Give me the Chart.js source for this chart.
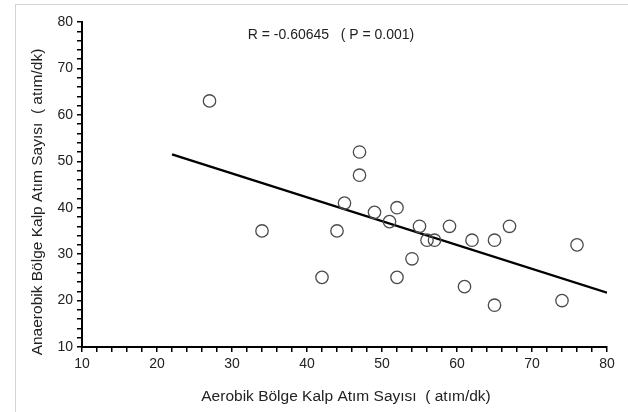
<!DOCTYPE html>
<html>
<head>
<meta charset="utf-8">
<script src="https://cdn.jsdelivr.net/npm/chart.js@4.4.1/dist/chart.umd.min.js"></script>
<style>
  body { margin: 0; background: #fff; }
  #wrap { position: relative; width: 628px; height: 412px; }
  #frame { position: absolute; left: 15px; top: 4px; right: 0; bottom: 0; border-left: 1px solid #d4d4d4; border-top: 1px solid #d4d4d4; }
  canvas { position: absolute; left: 0; top: 0; }
</style>
</head>
<body>
<div id="wrap">
  <div id="frame"></div>
  <canvas id="chartKalp" width="628" height="412"></canvas>
</div>
<script>
// Aerobik / anaerobik kalp atım sayıları
const aerobik   = [27, 34, 42, 44, 45, 47, 47, 49, 51, 52, 52, 54, 55, 56, 57, 59, 61, 62, 65, 65, 67, 74, 76];
const anaerobik = [63, 35, 25, 35, 41, 52, 47, 39, 37, 40, 25, 29, 36, 33, 33, 36, 23, 33, 33, 19, 36, 20, 32];

// Regresyon doğrusu uç noktaları
const fitX = [22, 80];
const fitY = [51.5, 21.7];

const xTitle = 'Aerobik Bölge Kalp Atım Sayısı  ( atım/dk)';
const yTitle = 'Anaerobik Bölge Kalp Atım Sayısı  ( atım/dk)';
const note = 'R = -0.60645   ( P = 0.001)';

const FONT = '"Liberation Sans", Arial, sans-serif';

// Eksen başlıkları ve R notu
const titlesPlugin = {
  id: 'titles',
  afterDraw(c) {
    const ctx = c.ctx;
    ctx.save();
    ctx.fillStyle = '#222';
    ctx.textAlign = 'center';
    ctx.textBaseline = 'middle';
    ctx.font = '14px ' + FONT;
    ctx.fillText(note, 331, 35);
    ctx.font = '15.5px ' + FONT;
    ctx.fillText(xTitle, 346, 397);
    ctx.translate(38, 202);
    ctx.rotate(-Math.PI / 2);
    ctx.fillText(yTitle, 0, 0);
    ctx.restore();
  }
};

const ctx = document.getElementById('chartKalp').getContext('2d');

new Chart(ctx, {
  type: 'scatter',
  data: {
    datasets: [
      {
        label: 'Veri',
        data: aerobik.map((x, i) => ({ x: x, y: anaerobik[i] })),
        pointStyle: 'circle',
        pointRadius: 6.2,
        pointBackgroundColor: 'rgba(255,255,255,0)',
        pointBorderColor: '#4a4a4a',
        pointBorderWidth: 1.3,
        showLine: false,
      },
      {
        label: 'Regresyon',
        type: 'line',
        data: fitX.map((x, i) => ({ x: x, y: fitY[i] })),
        borderColor: '#000',
        borderWidth: 2.4,
        pointRadius: 0,
        fill: false,
      }
    ]
  },
  options: {
    responsive: false,
    animation: false,
    layout: { padding: { left: 0, top: 22, right: 21, bottom: 0 } },
    plugins: {
      legend: { display: false },
      tooltip: { enabled: false },
    },
    scales: {
      x: {
        type: 'linear',
        min: 10,
        max: 80,
        afterFit(s) { s.height = 65; },
        border: { display: true, color: '#000', width: 2 },
        grid: { drawOnChartArea: false, drawTicks: true, tickLength: 5, color: '#000', lineWidth: 1.5 },
        ticks: {
          stepSize: 2,
          autoSkip: false,
          maxRotation: 0,
          padding: 4,
          color: '#222',
          font: { family: FONT, size: 14 },
          callback: v => (v % 10 === 0 ? v : ''),
        },
      },
      y: {
        type: 'linear',
        min: 10,
        max: 80,
        afterFit(s) { s.width = 82; },
        border: { display: true, color: '#000', width: 2 },
        grid: { drawOnChartArea: false, drawTicks: true, tickLength: 5, color: '#000', lineWidth: 1.5 },
        ticks: {
          stepSize: 2,
          autoSkip: false,
          padding: 4,
          color: '#222',
          font: { family: FONT, size: 14 },
          callback: v => (v % 10 === 0 ? v : ''),
        },
      }
    }
  },
  plugins: [titlesPlugin]
});
</script>
</body>
</html>
